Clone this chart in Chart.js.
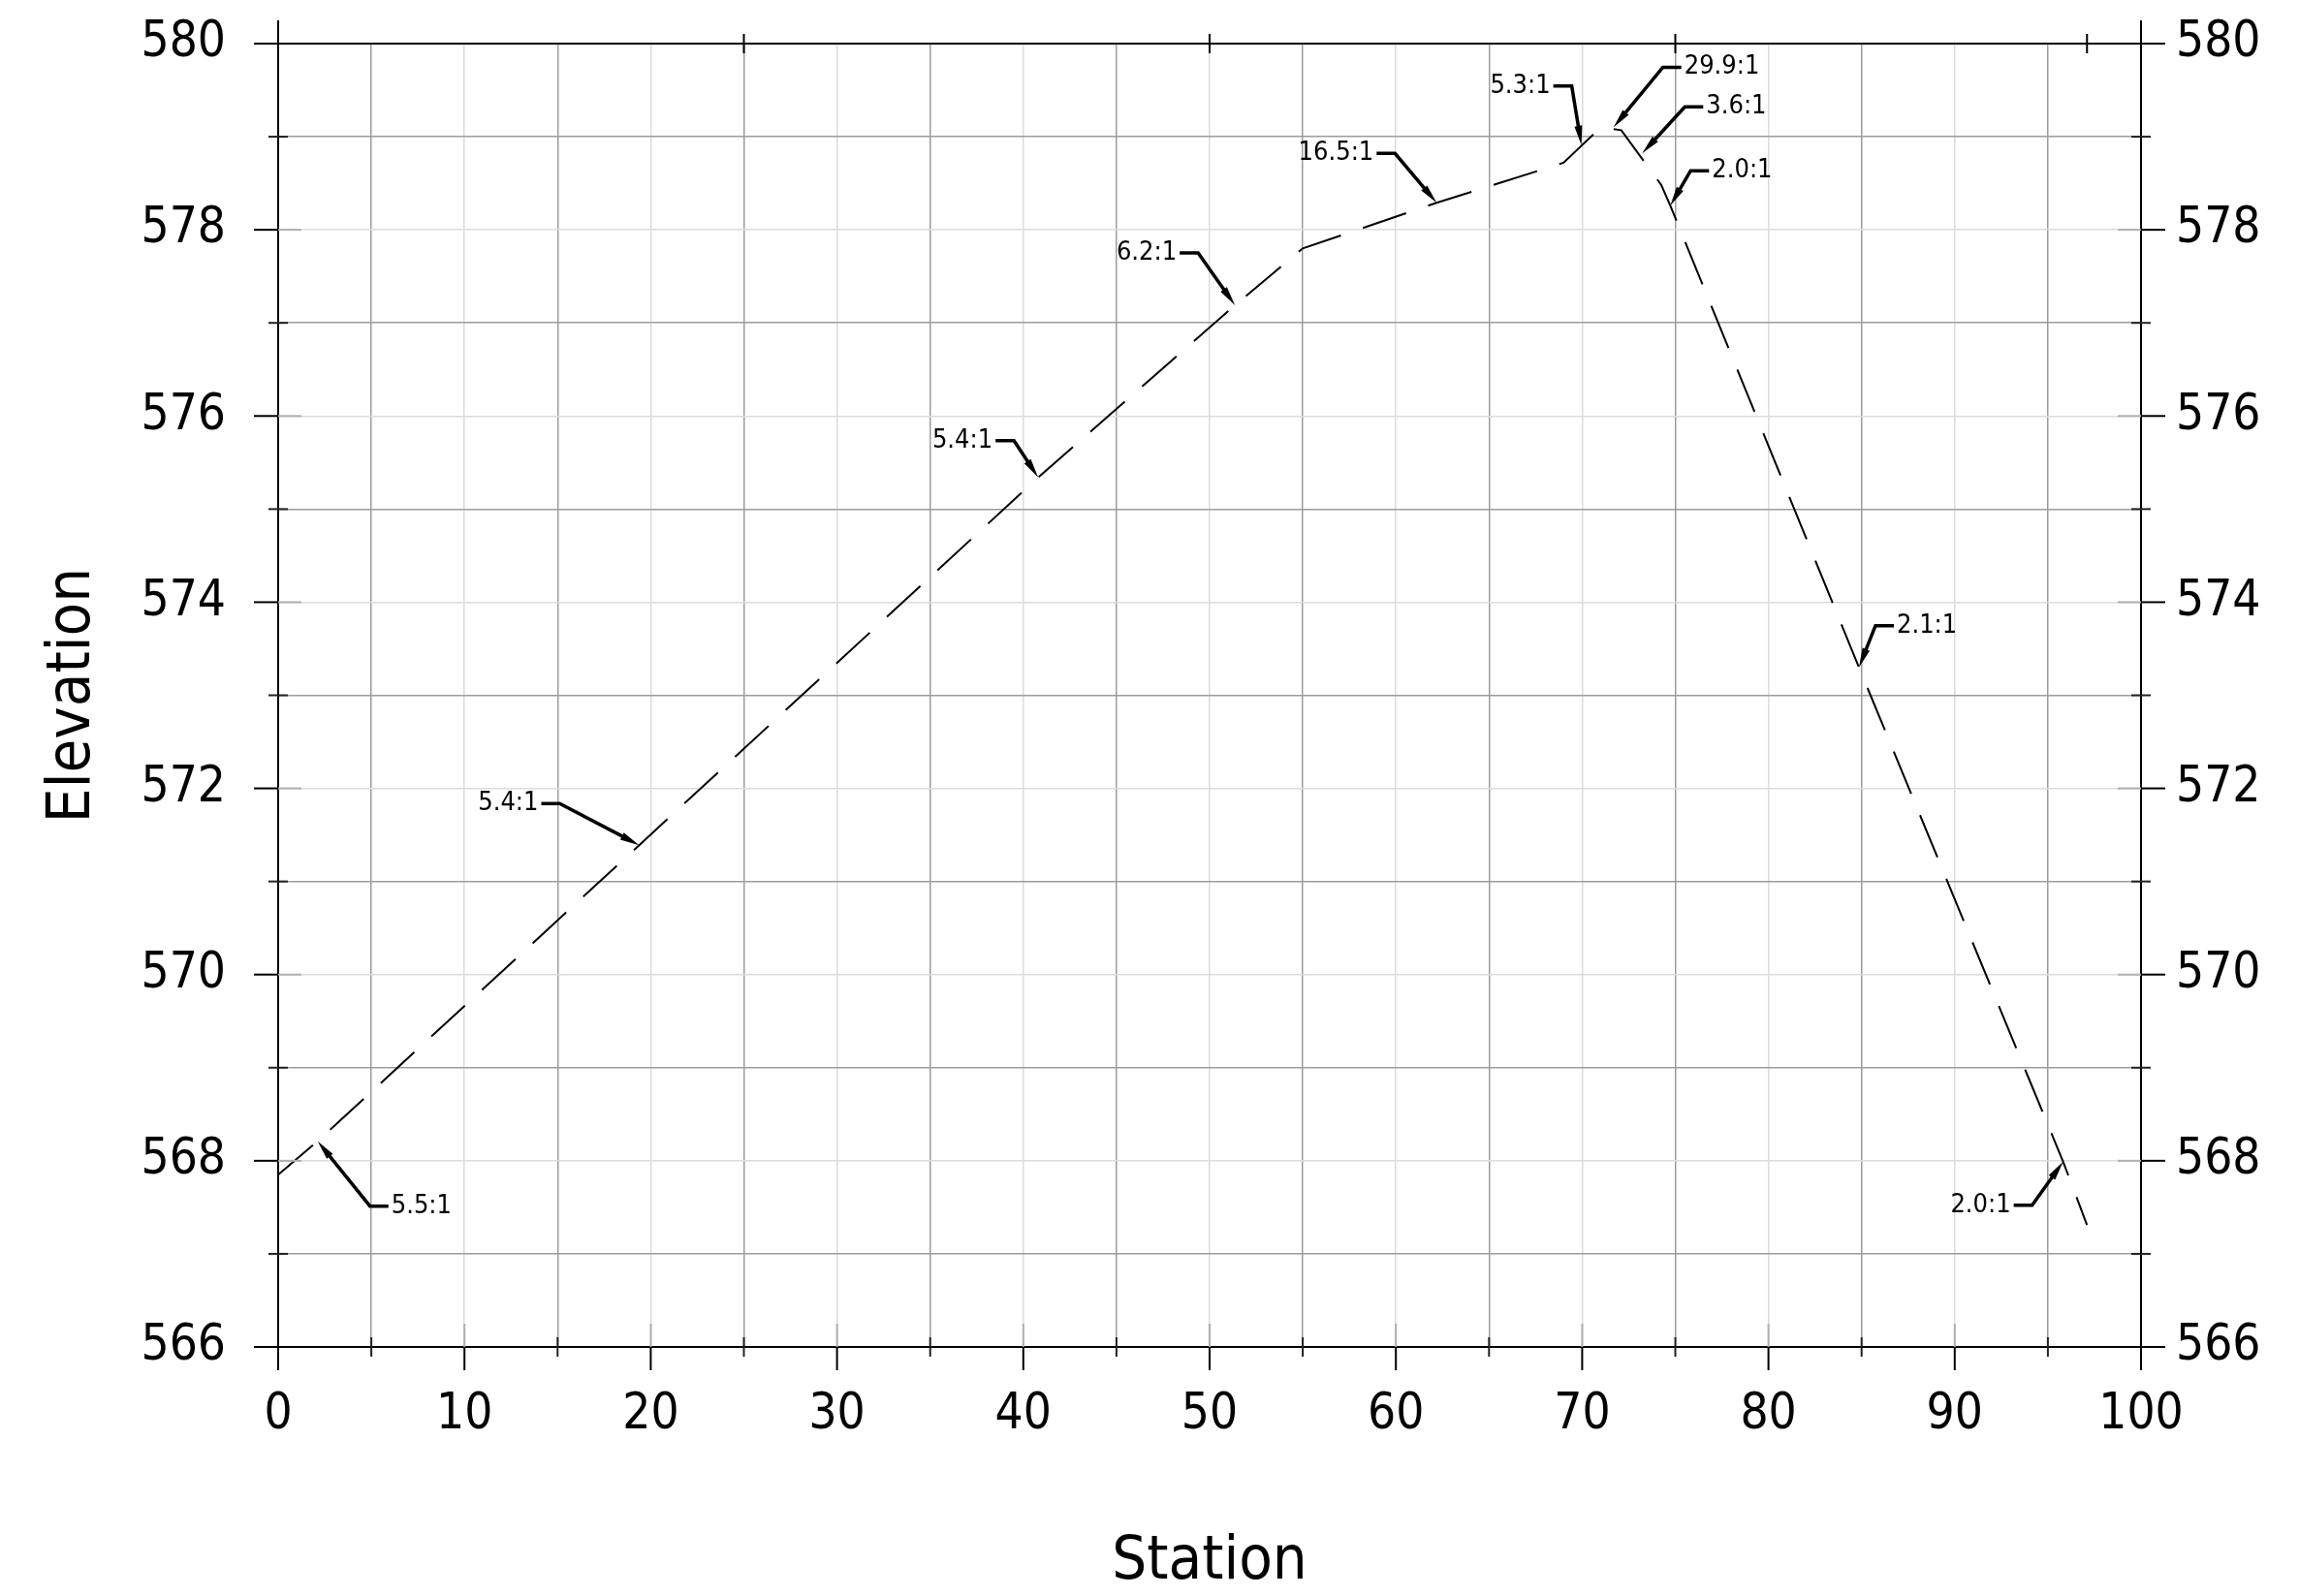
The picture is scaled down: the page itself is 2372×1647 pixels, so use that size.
<!DOCTYPE html>
<html lang="en">
<head>
    <meta charset="UTF-8">
    <title>Station / Elevation Profile</title>
    <style>
        body {
            margin: 0;
            background: #fff;
        }

        .chart-container {
            width: 2372px;
            height: 1647px;
        }
    </style>
    <script src="https://cdn.jsdelivr.net/npm/chart.js"></script>
</head>
<body>
    <div class="chart-container">
        <canvas id="profileChart" width="2372" height="1647"></canvas>
    </div>

    <script>
        // Ground profile vertices (station, elevation)
        const stations   = [0, 2.12, 19.38, 40.8, 51.36, 55.0, 62.19, 69.0, 71.0, 72.1, 74.25, 74.73, 84.86, 95.82, 97.1];
        const elevations = [567.85, 568.21, 571.39, 575.34, 577.19, 577.8, 578.29, 578.72, 579.1, 579.07, 578.48, 578.26, 573.3, 567.99, 567.31];

        // Slope callouts: where each arrow points, and its text
        const calloutStations   = [2.12, 19.38, 40.8, 51.36, 62.19, 69.96, 71.68, 73.22, 74.73, 84.86, 95.82];
        const calloutElevations = [568.21, 571.39, 575.34, 577.19, 578.29, 578.91, 579.1, 578.82, 578.26, 573.3, 567.99];
        const calloutLabels     = ['5.5:1', '5.4:1', '5.4:1', '6.2:1', '16.5:1', '5.3:1', '29.9:1', '3.6:1', '2.0:1', '2.1:1', '2.0:1'];

        // Tick labels
        const xTickLabels = [0, 10, 20, 30, 40, 50, 60, 70, 80, 90, 100];
        const yTickLabels = [566, 568, 570, 572, 574, 576, 578, 580];
        const topTickStations = [0, 25, 50, 75, 97.1, 100];

        // Layout only: elbow of each callout relative to its arrow tip, in px
        const calloutOffsets = [
            [54, 67], [-82, -43], [-25, -38], [-38, -54], [-43, -51], [-10, -61],
            [51, -62], [44, -48], [21, -36], [17, -43], [-32, 45]
        ];

        const FONT = '"DejaVu Sans Condensed", "DejaVu Sans", sans-serif';
        Chart.defaults.font.family = FONT;
        Chart.defaults.color = '#000';

        function gridColor(value, majorStep) {
            if (value === undefined) return 'rgba(0,0,0,0)';
            return Math.abs(value % majorStep) < 1e-6 ? '#dcdcdc' : '#9c9c9c';
        }

        // keep the plot box fixed, whatever the label sizes are
        function fixWidth(w) {
            return s => {
                s.width = w;
                s.paddingTop = 10;
                s.paddingBottom = 10;
            };
        }

        // Tick marks that cross the frame, like the CAD plot
        const frameTicks = {
            id: 'frameTicks',
            afterDraw(chart) {
                const { ctx, chartArea: a, scales } = chart;
                const seg = (x1, y1, x2, y2, color) => {
                    ctx.strokeStyle = color;
                    ctx.beginPath();
                    ctx.moveTo(x1, y1);
                    ctx.lineTo(x2, y2);
                    ctx.stroke();
                };
                ctx.save();
                ctx.lineWidth = 2;

                scales.x.ticks.forEach(t => {
                    const px = scales.x.getPixelForValue(t.value);
                    const edge = t.value === scales.x.min || t.value === scales.x.max;
                    if (xTickLabels.includes(t.value)) {
                        if (!edge) seg(px, a.bottom - 24, px, a.bottom, '#b0b0b0');
                        seg(px, a.bottom, px, a.bottom + 24, '#000');
                    } else {
                        seg(px, a.bottom - 10, px, a.bottom + 10, '#222');
                    }
                });

                scales.y.ticks.forEach(t => {
                    const py = scales.y.getPixelForValue(t.value);
                    const edge = t.value === scales.y.min || t.value === scales.y.max;
                    if (yTickLabels.includes(t.value)) {
                        if (!edge) {
                            seg(a.left, py, a.left + 24, py, '#b0b0b0');
                            seg(a.right - 24, py, a.right, py, '#b0b0b0');
                        }
                        seg(a.left - 25, py, a.left, py, '#000');
                        seg(a.right, py, a.right + 25, py, '#000');
                    } else {
                        seg(a.left - 10, py, a.left + 10, py, '#222');
                        seg(a.right - 10, py, a.right + 10, py, '#222');
                    }
                });

                scales.xTop.ticks.forEach(t => {
                    const px = scales.xTop.getPixelForValue(t.value);
                    if (t.value === 0 || t.value === 100) {
                        seg(px, a.top - 24, px, a.top, '#000');
                    } else {
                        seg(px, a.top - 10, px, a.top + 10, '#000');
                    }
                });
                ctx.restore();
            }
        };

        // Slope labels with leader + arrow
        const slopeCallouts = {
            id: 'slopeCallouts',
            afterDatasetsDraw(chart) {
                const { ctx, scales: { x, y } } = chart;
                ctx.save();
                ctx.strokeStyle = '#000';
                ctx.fillStyle = '#000';
                ctx.font = '27px ' + FONT;
                ctx.textBaseline = 'middle';
                ctx.lineJoin = 'miter';

                calloutLabels.forEach((label, i) => {
                    const tx = x.getPixelForValue(calloutStations[i]);
                    const ty = y.getPixelForValue(calloutElevations[i]);
                    const [dx, dy] = calloutOffsets[i];
                    const ex = tx + dx;
                    const ey = ty + dy;
                    const side = dx < 0 ? -1 : 1;

                    const ang = Math.atan2(ty - ey, tx - ex);
                    const cos = Math.cos(ang), sin = Math.sin(ang);
                    const head = 20, half = 4;

                    ctx.lineWidth = 3.5;
                    ctx.beginPath();
                    ctx.moveTo(ex + side * 19, ey);
                    ctx.lineTo(ex, ey);
                    ctx.lineTo(tx - cos * head * 0.7, ty - sin * head * 0.7);
                    ctx.stroke();

                    ctx.beginPath();
                    ctx.moveTo(tx, ty);
                    ctx.lineTo(tx - cos * head + sin * half, ty - sin * head - cos * half);
                    ctx.lineTo(tx - cos * head - sin * half, ty - sin * head + cos * half);
                    ctx.closePath();
                    ctx.fill();

                    ctx.textAlign = side < 0 ? 'right' : 'left';
                    ctx.fillText(label, ex + side * 22, ey);
                });
                ctx.restore();
            }
        };

        const profileCtx = document.getElementById('profileChart').getContext('2d');
        const profileChart = new Chart(profileCtx, {
            type: 'scatter',
            data: {
                datasets: [{
                    label: 'Ground',
                    data: stations.map((s, i) => ({ x: s, y: elevations[i] })),
                    showLine: true,
                    borderColor: '#000',
                    borderWidth: 2,
                    borderDash: [47, 24],
                    pointRadius: 0,
                    fill: false,
                    tension: 0
                }]
            },
            options: {
                responsive: false,
                animation: false,
                devicePixelRatio: 1,
                layout: { padding: 0 },
                plugins: {
                    legend: { display: false },
                    tooltip: { enabled: false }
                },
                scales: {
                    x: {
                        type: 'linear',
                        position: 'bottom',
                        min: 0,
                        max: 100,
                        afterFit: s => { s.height = 257; },
                        ticks: {
                            stepSize: 5,
                            autoSkip: false,
                            maxRotation: 0,
                            padding: 40,
                            font: { size: 51 },
                            callback: v => xTickLabels.includes(v) ? String(v) : ''
                        },
                        grid: {
                            drawTicks: false,
                            lineWidth: 1.5,
                            color: c => gridColor(c.tick && c.tick.value, 10)
                        },
                        border: { color: '#000', width: 2 },
                        title: {
                            display: true,
                            text: 'Station',
                            font: { size: 63 },
                            padding: { top: 0, bottom: -3 }
                        }
                    },
                    xTop: {
                        type: 'linear',
                        position: 'top',
                        min: 0,
                        max: 100,
                        afterFit: s => { s.height = 45; },
                        afterBuildTicks: s => { s.ticks = topTickStations.map(v => ({ value: v })); },
                        ticks: { display: false },
                        grid: { drawOnChartArea: false, drawTicks: false },
                        border: { color: '#000', width: 2 }
                    },
                    y: {
                        type: 'linear',
                        position: 'left',
                        min: 566,
                        max: 580,
                        afterFit: fixWidth(287),
                        ticks: {
                            stepSize: 1,
                            autoSkip: false,
                            padding: 54,
                            font: { size: 51 },
                            callback: v => yTickLabels.includes(v) ? String(v) : ''
                        },
                        grid: {
                            drawTicks: false,
                            lineWidth: 1.5,
                            color: c => gridColor(c.tick && c.tick.value, 2)
                        },
                        border: { color: '#000', width: 2 },
                        title: {
                            display: true,
                            text: 'Elevation',
                            font: { size: 63 },
                            padding: { top: 38, bottom: 0 }
                        }
                    },
                    y2: {
                        type: 'linear',
                        position: 'right',
                        min: 566,
                        max: 580,
                        afterFit: fixWidth(163),
                        ticks: {
                            stepSize: 1,
                            autoSkip: false,
                            padding: 36,
                            font: { size: 51 },
                            callback: v => yTickLabels.includes(v) ? String(v) : ''
                        },
                        grid: { drawOnChartArea: false, drawTicks: false },
                        border: { color: '#000', width: 2 }
                    }
                }
            },
            plugins: [frameTicks, slopeCallouts]
        });
    </script>
</body>
</html>
